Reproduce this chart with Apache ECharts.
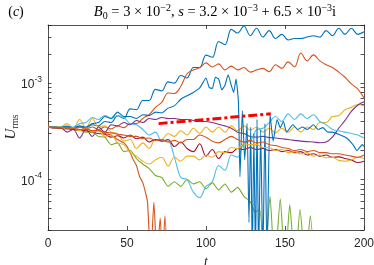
<!DOCTYPE html>
<html><head><meta charset="utf-8">
<script src="https://cdn.jsdelivr.net/npm/echarts@6/dist/echarts.min.js"></script>
<style>html,body{margin:0;padding:0;background:#fff}#c{width:374px;height:265px}</style>
</head><body><div id="c"></div>
<script>
// time grid (t)
const T = [0,4,8,12,16,20,24,28,32,36,40,44,48,52,56,60,64,68,72,76,80,84,88,92,96,100,104,108,112,116,120,124,128,132,136,140,144,148,152,156,160,164,168,172,176,180,184,188,192,196,200];

const blueA = [3.5e-4,3.48e-4,3.45e-4,3.5e-4,3.4e-4,3.5e-4,3.45e-4,3.7e-4,3.6e-4,4.0e-4,3.9e-4,4.6e-4,4.3e-4,5.4e-4,5.3e-4,6.6e-4,6.6e-4,8.6e-4,8.3e-4,1.03e-3,1.0e-3,1.2e-3,1.13e-3,1.45e-3,1.45e-3,1.95e-3,1.85e-3,2.7e-3,2.5e-3,3.6e-3,3.3e-3,3.9e-3,3.1e-3,3.7e-3,3.0e-3,3.5e-3,2.9e-3,3.2e-3,2.8e-3,2.9e-3,2.9e-3,3.0e-3,3.1e-3,3.0e-3,3.5e-3,3.1e-3,3.7e-3,3.2e-3,3.7e-3,3.2e-3,3.4e-3];

const orangeA = [3.5e-4,3.5e-4,3.42e-4,3.5e-4,3.38e-4,3.5e-4,3.35e-4,3.5e-4,3.3e-4,3.5e-4,3.35e-4,3.6e-4,3.45e-4,3.8e-4,3.8e-4,4.3e-4,4.7e-4,5.6e-4,6.3e-4,7.9e-4,7.8e-4,9.2e-4,1.25e-3,1.37e-3,1.44e-3,1.62e-3,1.47e-3,1.58e-3,1.37e-3,1.5e-3,1.37e-3,1.45e-3,1.3e-3,1.37e-3,1.42e-3,1.31e-3,1.55e-3,1.42e-3,1.66e-3,1.47e-3,2.05e-3,1.7e-3,1.96e-3,1.7e-3,1.55e-3,1.45e-3,1.3e-3,1.15e-3,9.8e-4,8.7e-4,7.0e-4];

const yellowA = [3.5e-4,3.55e-4,3.5e-4,3.8e-4,3.4e-4,4.2e-4,3.4e-4,4.3e-4,3.5e-4,3.6e-4,3.1e-4,3.0e-4,2.5e-4,2.6e-4,2.1e-4,2.4e-4,2.1e-4,2.6e-4,2.6e-4,3.0e-4,2.8e-4,3.2e-4,2.9e-4,3.4e-4,3.0e-4,3.5e-4,3.1e-4,3.5e-4,3.1e-4,3.6e-4,3.2e-4,3.6e-4,3.25e-4,3.5e-4,3.1e-4,3.4e-4,3.05e-4,3.4e-4,3.1e-4,3.5e-4,3.1e-4,3.5e-4,3.3e-4,3.9e-4,3.9e-4,4.5e-4,4.6e-4,5.3e-4,5.6e-4,6.0e-4,5.8e-4];

const purple = [3.5e-4,3.4e-4,3.45e-4,3.1e-4,3.3e-4,2.7e-4,3.3e-4,2.8e-4,3.5e-4,3.1e-4,3.7e-4,3.6e-4,3.9e-4,3.7e-4,4.1e-4,3.9e-4,4.3e-4,4.2e-4,4.4e-4,4.3e-4,4.3e-4,4.2e-4,4.2e-4,4.1e-4,4.0e-4,4.0e-4,3.9e-4,3.75e-4,3.6e-4,3.4e-4,3.1e-4,3.0e-4,2.8e-4,2.75e-4,2.8e-4,2.72e-4,2.7e-4,2.65e-4,2.6e-4,2.55e-4,2.5e-4,2.47e-4,2.45e-4,2.41e-4,2.45e-4,2.75e-4,3.4e-4,4.1e-4,5.1e-4,5.9e-4,6.4e-4];

const lightBlue = [3.5e-4,3.5e-4,3.45e-4,3.6e-4,3.5e-4,3.8e-4,3.9e-4,4.4e-4,4.2e-4,4.6e-4,4.3e-4,4.6e-4,4.4e-4,3.8e-4,3.7e-4,3.3e-4,2.9e-4,3.1e-4,2.5e-4,2.5e-4,1.7e-4,1.05e-4,1.0e-4,7.4e-5,6.5e-5,8.5e-5,9.5e-5,1.4e-4,1.25e-4,1.8e-4,1.7e-4,2.4e-4,2.5e-4,3.3e-4,3.4e-4,3.9e-4,4.5e-4,4.0e-4,4.8e-4,4.2e-4,4.8e-4,4.3e-4,4.7e-4,4.0e-4,3.7e-4,3.3e-4,3.2e-4,3.1e-4,3.0e-4,2.9e-4,2.7e-4];

const darkRed = [3.5e-4,3.45e-4,3.4e-4,3.35e-4,3.3e-4,3.25e-4,3.2e-4,3.1e-4,3.0e-4,2.95e-4,2.75e-4,2.85e-4,2.7e-4,2.9e-4,2.65e-4,2.75e-4,2.45e-4,2.6e-4,2.5e-4,2.6e-4,2.2e-4,2.45e-4,2.1e-4,1.95e-4,2.35e-4,1.75e-4,2.05e-4,1.65e-4,1.95e-4,1.9e-4,2.1e-4,2.05e-4,2.15e-4,2.05e-4,2.1e-4,2.0e-4,2.05e-4,1.95e-4,2.0e-4,1.9e-4,1.95e-4,1.8e-4,1.85e-4,1.75e-4,1.8e-4,1.7e-4,1.72e-4,1.65e-4,1.6e-4,1.5e-4,1.55e-4];

const orangeC = [3.5e-4,3.45e-4,3.45e-4,3.4e-4,3.4e-4,3.3e-4,3.35e-4,3.2e-4,3.2e-4,3.1e-4,3.05e-4,2.95e-4,2.9e-4,2.8e-4,2.8e-4,2.65e-4,2.7e-4,2.55e-4,2.6e-4,2.45e-4,2.55e-4,2.4e-4,2.6e-4,2.6e-4,2.9e-4,2.75e-4,2.5e-4,2.4e-4,2.6e-4,2.8e-4,2.6e-4,2.45e-4,2.55e-4,2.4e-4,2.45e-4,2.3e-4,2.25e-4,2.15e-4,2.1e-4,2.0e-4,2.05e-4,1.95e-4,2.0e-4,1.9e-4,1.9e-4,1.85e-4,1.85e-4,1.8e-4,1.75e-4,1.7e-4,1.8e-4];

const yellowB = [3.5e-4,3.45e-4,3.5e-4,3.3e-4,3.45e-4,3.2e-4,3.4e-4,3.1e-4,3.2e-4,2.8e-4,2.9e-4,2.4e-4,2.3e-4,1.9e-4,1.75e-4,1.55e-4,1.45e-4,1.6e-4,1.7e-4,1.38e-4,1.7e-4,1.55e-4,1.75e-4,1.75e-4,1.6e-4,1.8e-4,1.7e-4,1.95e-4,1.9e-4,2.15e-4,2.1e-4,2.35e-4,2.3e-4,2.3e-4,2.15e-4,2.15e-4,2.0e-4,2.05e-4,1.9e-4,1.95e-4,1.85e-4,1.9e-4,1.75e-4,1.8e-4,1.68e-4,1.7e-4,1.58e-4,1.55e-4,1.6e-4,1.7e-4,1.65e-4];

// series on their own time samples
const blueB_t = [0,4,8,12,16,20,24,28,32,36,40,44,48,52,56,60,64,68,72,76,80,84,88,92,96,100,102,104,106,108,110,112,114,116,117.5,119,120.5,121.5,123,124.5,126,127.2,128.3,129.3,130.3,131.3,132.3,133.3,134.6,136,137.3,138.6,140.5,142.5,145,147,149,151,155,158,161,164,168,171,174,177,180,185,189,193,195.5,199,200];
const blueB = [3.5e-4,3.5e-4,3.5e-4,3.55e-4,3.45e-4,3.6e-4,3.5e-4,3.8e-4,3.9e-4,4.5e-4,4.3e-4,5.0e-4,4.5e-4,4.5e-4,4.3e-4,4.7e-4,4.6e-4,5.0e-4,4.9e-4,5.5e-4,5.8e-4,6.8e-4,7.4e-4,8.0e-4,8.9e-4,1.13e-3,9.0e-4,8.8e-4,1.15e-3,1.1e-3,8.5e-4,9.5e-4,1.22e-3,9.5e-4,8.0e-4,1.1e-3,6.5e-4,1.07e-4,5.2e-4,1.6e-4,3.8e-4,3.6e-5,3.5e-4,1.5e-5,3.0e-4,1.5e-5,4.2e-4,1.5e-5,3.3e-4,1.5e-5,3.8e-4,1.5e-5,4.8e-4,2.5e-4,4.2e-4,3.45e-4,4.0e-4,3.1e-4,3.7e-4,3.3e-4,3.5e-4,3.3e-4,3.7e-4,3.3e-4,3.45e-4,3.1e-4,3.1e-4,2.9e-4,2.7e-4,2.3e-4,2.0e-4,2.3e-4,2.2e-4];

const orangeB_t = [0,4,8,12,16,20,24,28,32,36,40,44,48,50,52,54,56,58,60,62,63,65,67,69,71,72.5,74,76];
const orangeB = [3.5e-4,3.48e-4,3.45e-4,3.4e-4,3.4e-4,3.3e-4,3.35e-4,3.2e-4,3.25e-4,3.0e-4,2.9e-4,2.6e-4,2.4e-4,2.2e-4,1.9e-4,1.6e-4,1.4e-4,1.07e-4,9.3e-5,7.0e-5,5.8e-5,1.5e-5,5.8e-5,1.5e-5,4.0e-5,1.5e-5,4.2e-5,1.0e-5];

const green_t = [0,4,8,12,16,20,24,28,32,36,40,44,48,52,56,60,64,68,72,76,80,84,88,92,96,100,104,108,112,116,120,124,128,131,134,137,140.5,143.5,147,150,153,156.3,159.5,163,166,169];
const green = [3.5e-4,3.45e-4,3.4e-4,3.38e-4,3.3e-4,3.25e-4,3.1e-4,3.1e-4,2.8e-4,2.75e-4,2.3e-4,2.4e-4,1.95e-4,2.0e-4,1.65e-4,1.45e-4,1.3e-4,1.1e-4,1.05e-4,8.5e-5,9.5e-5,8.5e-5,1.0e-4,9.0e-5,9.5e-5,8.0e-5,9.3e-5,7.8e-5,9.0e-5,7.4e-5,8.3e-5,6.7e-5,5.9e-5,4.6e-5,4.9e-5,1.2e-5,6.7e-5,1.2e-5,6.3e-5,1.2e-5,5.5e-5,1.2e-5,4.9e-5,1.2e-5,4.2e-5,1.0e-5];

// growth-rate fit line
const fitT = [70, 141];
const fitU = [3.8e-4, 4.8e-4];

const xTicks = [0, 50, 100, 150, 200];
const yLabelVals = [1e-4, 1e-3];
const yTickVals = [3e-5,4e-5,5e-5,6e-5,7e-5,8e-5,9e-5,1e-4,2e-4,3e-4,4e-4,5e-4,6e-4,7e-4,8e-4,9e-4,1e-3,2e-3,3e-3,4e-3];

const C = {blue:'#0072BD', orange:'#D95319', yellow:'#EDB120', purple:'#7E2F8E', green:'#77AC30', lblue:'#4DBEEE', dred:'#A2142F'};

function pairs(ts, vs){ return ts.map((t,i)=>[t, vs[i]]); }
function line(name, ts, vs, color, smooth){
  return {name, type:'line', data:pairs(ts,vs), showSymbol:false, symbol:'none', smooth: smooth===undefined?0.35:smooth,
    clip:true, lineStyle:{color, width:1.1}, itemStyle:{color}, xAxisIndex:0, yAxisIndex:0, z:2, animation:false};
}

const axisCol = '#262626';
const chart = echarts.init(document.getElementById('c'), null, {renderer:'canvas'});
const lbl = {fontFamily:'Liberation Sans, Arial, sans-serif', fontSize:12, color:axisCol};
chart.setOption({
  animation:false,
  backgroundColor:'#fff',
  grid:{left:48, right:10, top:25, bottom:35, containLabel:false, outerBoundsMode:'none'},
  xAxis:[{
    type:'value', min:0, max:200, interval:50, position:'bottom',
    axisLine:{show:true, onZero:false, lineStyle:{color:axisCol, width:0.8}},
    axisTick:{show:true, inside:true, length:4, customValues:xTicks, lineStyle:{color:axisCol, width:0.8}},
    axisLabel:Object.assign({margin:8, customValues:xTicks}, lbl),
    splitLine:{show:false},
    name:'t', nameLocation:'middle', nameGap:24,
    nameTextStyle:{fontFamily:'Liberation Serif, serif', fontStyle:'italic', fontSize:14, color:axisCol}
  },{
    type:'value', min:0, max:200, interval:50, position:'top',
    axisLine:{show:true, onZero:false, lineStyle:{color:axisCol, width:0.8}},
    axisTick:{show:true, inside:true, length:4, lineStyle:{color:axisCol, width:0.8}},
    axisLabel:{show:false}, splitLine:{show:false}
  }],
  yAxis:[{
    type:'log', logBase:10, min:3e-5, max:4e-3, position:'left',
    axisLine:{show:true, onZero:false, lineStyle:{color:axisCol, width:0.8}},
    axisTick:{show:true, inside:true, length:3.5, customValues:yTickVals, lineStyle:{color:axisCol, width:0.8}},
    axisLabel:{margin:6, customValues:yLabelVals, color:axisCol,
      formatter:function(v){ return '{b|10}{s|' + Math.round(Math.log10(v)) + '}'; },
      rich:{b:{fontFamily:'Liberation Sans, Arial, sans-serif', fontSize:12, color:axisCol, lineHeight:16, verticalAlign:'bottom'},
            s:{fontFamily:'Liberation Sans, Arial, sans-serif', fontSize:8.5, color:axisCol, lineHeight:16, verticalAlign:'top'}}},
    splitLine:{show:false}
  },{
    type:'log', logBase:10, min:3e-5, max:4e-3, position:'right',
    axisLine:{show:true, onZero:false, lineStyle:{color:axisCol, width:0.8}},
    axisTick:{show:true, inside:true, length:3.5, customValues:yTickVals, lineStyle:{color:axisCol, width:0.8}},
    axisLabel:{show:false}, splitLine:{show:false}
  }],
  graphic:[
    {type:'text', x:16, y:12, style:{text:'({i|c})', align:'center', verticalAlign:'middle', fill:'#000',
      font:'14px "Liberation Serif", serif', rich:{i:{fontStyle:'italic', fontFamily:'Liberation Serif, serif', fontSize:14, fill:'#000'}}}},
    {type:'text', x:11, y:127, rotation:Math.PI/2, style:{
      text:'{u|U}{r|rms}', align:'center', verticalAlign:'middle', fill:axisCol,
      rich:{u:{fontFamily:'Liberation Serif, serif', fontStyle:'italic', fontSize:15, fill:axisCol, lineHeight:18, verticalAlign:'middle'},
            r:{fontFamily:'Liberation Serif, serif', fontSize:9.5, fill:axisCol, lineHeight:18, verticalAlign:'bottom'}}}},
    {type:'text', x:215, y:12, style:{
      text:'{i|B}{sb|0}{n| = 3 × 10}{sp|−2}{n|, }{i|s}{n| = 3.2 × 10}{sp|−3}{n| + 6.5 × 10}{sp|−3}{n|i}',
      align:'center', verticalAlign:'middle', fill:'#000',
      rich:{
        n:{fontFamily:'Liberation Serif, serif', fontSize:14.5, lineHeight:18, fill:'#000', verticalAlign:'middle'},
        i:{fontFamily:'Liberation Serif, serif', fontStyle:'italic', fontSize:14.5, lineHeight:18, fill:'#000', verticalAlign:'middle'},
        sp:{fontFamily:'Liberation Serif, serif', fontSize:10, lineHeight:18, fill:'#000', verticalAlign:'top'},
        sb:{fontFamily:'Liberation Serif, serif', fontSize:10, lineHeight:18, fill:'#000', verticalAlign:'bottom'}
      }}}
  ],
  series:[
    line('blueA', T, blueA, C.blue),
    line('orangeA', T, orangeA, C.orange),
    line('yellowA', T, yellowA, C.yellow),
    line('purple', T, purple, C.purple),
    line('green', green_t, green, C.green, 0.2),
    line('lightBlue', T, lightBlue, C.lblue),
    line('darkRed', T, darkRed, C.dred),
    line('blueB', blueB_t, blueB, C.blue, 0.15),
    line('orangeB', orangeB_t, orangeB, C.orange, 0.2),
    line('yellowB', T, yellowB, C.yellow),
    line('orangeC', T, orangeC, C.orange),
    {name:'fit', type:'line', data:pairs(fitT, fitU), showSymbol:false, symbol:'none', clip:true, z:5,
      lineStyle:{color:'#FF0000', width:3, type:[9,3,3,3]}}
  ]
});
</script></body></html>
